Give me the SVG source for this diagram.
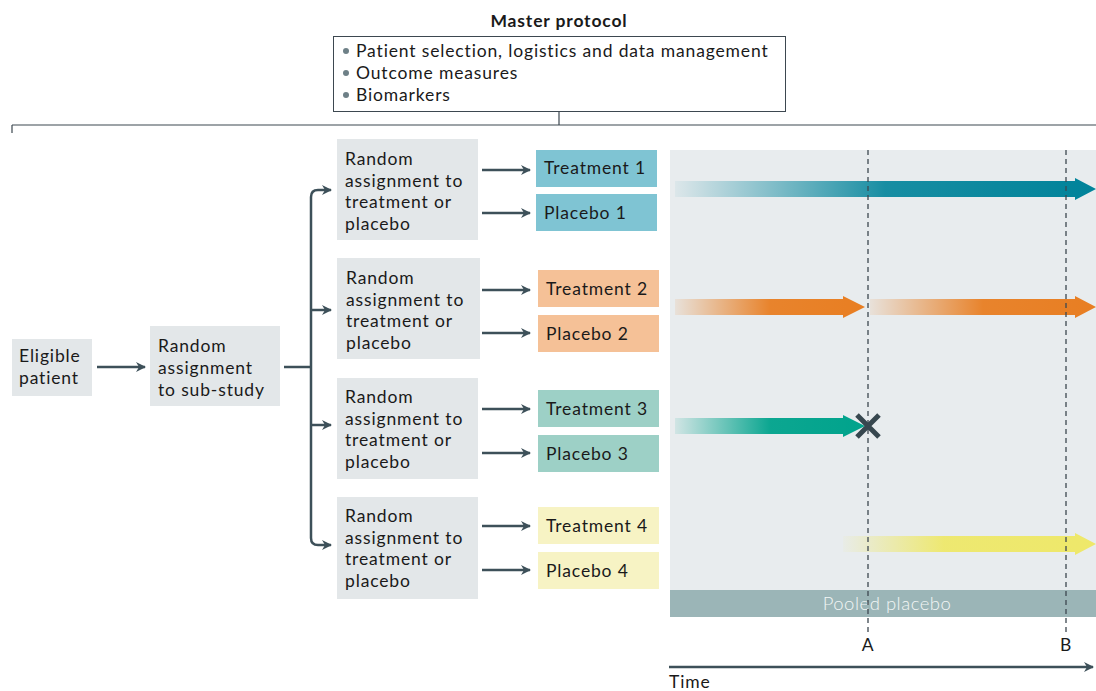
<svg xmlns="http://www.w3.org/2000/svg" width="1096" height="691" viewBox="0 0 1096 691">
<defs>
<style>
text{font-family:Lato,"Open Sans","Liberation Sans",sans-serif;font-size:17.5px;letter-spacing:0.85px;fill:#1a1a1a}
.box{fill:#e3e7e9}
.ln{stroke:#3d5059;stroke-width:2.5;fill:none}
.dash{stroke:#3d4850;stroke-width:1.3;stroke-dasharray:5 4;fill:none}
</style>
<marker id="ah" viewBox="0 0 10 10" refX="9" refY="5" markerWidth="4" markerHeight="4" orient="auto" markerUnits="strokeWidth">
<path d="M0,0 L10,5 L0,10 L3,5 Z" fill="#3d5059"/>
</marker>
<linearGradient id="gBlue" x1="0" x2="1"><stop offset="0" stop-color="#00839a" stop-opacity="0.05"/><stop offset="0.5" stop-color="#00839a" stop-opacity="0.9"/><stop offset="1" stop-color="#00839a"/></linearGradient>
<linearGradient id="gOr" x1="0" x2="1"><stop offset="0" stop-color="#e87e22" stop-opacity="0.1"/><stop offset="0.5" stop-color="#e87e22" stop-opacity="0.95"/><stop offset="1" stop-color="#e87e22"/></linearGradient>
<linearGradient id="gGr" x1="0" x2="1"><stop offset="0" stop-color="#00a38c" stop-opacity="0.1"/><stop offset="0.5" stop-color="#00a38c" stop-opacity="0.95"/><stop offset="1" stop-color="#00a38c"/></linearGradient>
<linearGradient id="gYe" x1="0" x2="1"><stop offset="0" stop-color="#eee86a" stop-opacity="0.05"/><stop offset="0.4" stop-color="#eee86a" stop-opacity="0.95"/><stop offset="1" stop-color="#eee86a"/></linearGradient>
</defs>

<g id="master">
<text x="559" y="27" text-anchor="middle" font-weight="bold">Master protocol</text>
<rect x="333.5" y="36.5" width="452" height="75" fill="#fff" stroke="#3d4850" stroke-width="1"/>
<circle cx="346" cy="51" r="3" fill="#6e8087"/>
<circle cx="346" cy="73" r="3" fill="#6e8087"/>
<circle cx="346" cy="95" r="3" fill="#6e8087"/>
<text x="356" y="57">Patient selection, logistics and data management</text>
<text x="356" y="79">Outcome measures</text>
<text x="356" y="101">Biomarkers</text>
</g>

<g id="panel">
<rect x="670" y="150" width="426" height="440" fill="#e8ecee"/>
<rect x="670" y="590" width="426" height="27" fill="#9bb5b7"/>
<text x="887" y="610" text-anchor="middle" style="fill:#f2f5f5;font-weight:300;font-size:18.5px;letter-spacing:0.5px">Pooled placebo</text>
</g>

<g id="eligible"><rect class="box" x="12" y="339" width="80" height="57"/><text x="19" y="362">Eligible</text><text x="19" y="384">patient</text></g>
<g id="substudy"><rect class="box" x="150" y="326" width="130" height="80"/><text x="158" y="352">Random</text><text x="158" y="374">assignment</text><text x="158" y="396">to sub-study</text></g>

<g id="rand1"><rect class="box" x="337" y="139" width="141" height="101"/><text x="345" y="165">Random</text><text x="345" y="186.5">assignment to</text><text x="345" y="208">treatment or</text><text x="345" y="229.5">placebo</text></g>
<g id="rand2"><rect class="box" x="337" y="258" width="143" height="101"/><text x="346" y="284">Random</text><text x="346" y="305.5">assignment to</text><text x="346" y="327">treatment or</text><text x="346" y="348.5">placebo</text></g>
<g id="rand3"><rect class="box" x="337" y="378" width="141" height="101"/><text x="345" y="403">Random</text><text x="345" y="424.5">assignment to</text><text x="345" y="446">treatment or</text><text x="345" y="467.5">placebo</text></g>
<g id="rand4"><rect class="box" x="337" y="497" width="141" height="102"/><text x="345" y="522">Random</text><text x="345" y="543.5">assignment to</text><text x="345" y="565">treatment or</text><text x="345" y="586.5">placebo</text></g>

<g id="t1"><rect x="536" y="150" width="121" height="37" fill="#7fc4d3"/><text x="544" y="174">Treatment 1</text></g>
<g id="p1"><rect x="536" y="194" width="121" height="37" fill="#7fc4d3"/><text x="544" y="219">Placebo 1</text></g>
<g id="t2"><rect x="538" y="270" width="121" height="37" fill="#f5c197"/><text x="546" y="295">Treatment 2</text></g>
<g id="p2"><rect x="538" y="315" width="121" height="37" fill="#f5c197"/><text x="546" y="340">Placebo 2</text></g>
<g id="t3"><rect x="538" y="390" width="121" height="37" fill="#9dd0c6"/><text x="546" y="415">Treatment 3</text></g>
<g id="p3"><rect x="538" y="435" width="121" height="37" fill="#9dd0c6"/><text x="546" y="460">Placebo 3</text></g>
<g id="t4"><rect x="538" y="507" width="121" height="37" fill="#f7f3c4"/><text x="546" y="532">Treatment 4</text></g>
<g id="p4"><rect x="538" y="552" width="121" height="37" fill="#f7f3c4"/><text x="546" y="577">Placebo 4</text></g>

<g id="timeline">
<path d="M675,181 H1075 V178 L1096,189 L1075,200 V197 H675 Z" fill="url(#gBlue)"/>
<path d="M675,299 H843 V296 L865,307 L843,318 V315 H675 Z" fill="url(#gOr)"/>
<path d="M870,299 H1075 V296 L1096,307 L1075,318 V315 H870 Z" fill="url(#gOr)"/>
<path d="M675,418 H843 V415 L865,426 L843,437 V434 H675 Z" fill="url(#gGr)"/>
<path d="M843,536 H1075 V533 L1096,544 L1075,555 V552 H843 Z" fill="url(#gYe)"/>
<line class="dash" x1="868" y1="150" x2="868" y2="634"/>
<line class="dash" x1="1066" y1="150" x2="1066" y2="634"/>
<path d="M857,415 L879,437 M879,415 L857,437" stroke="#37474f" stroke-width="5"/>
<text x="868" y="651" text-anchor="middle">A</text>
<text x="1066" y="651" text-anchor="middle">B</text>
<line class="ln" x1="669" y1="667" x2="1093" y2="667" marker-end="url(#ah)" stroke-width="2"/>
<text x="669" y="688">Time</text>
</g>

<g id="connectors">
<path d="M559,112 V125 M12,125 H1096 M12,125 V133" stroke="#3d4850" stroke-width="1.2" fill="none"/>
<line class="ln" x1="97" y1="367" x2="145" y2="367" marker-end="url(#ah)"/>
<path class="ln" d="M284,367 H311"/>
<path class="ln" d="M311,367 V197 Q311,190 318,190 H331" marker-end="url(#ah)"/>
<path class="ln" d="M311,367 V538 Q311,545 318,545 H331" marker-end="url(#ah)"/>
<line class="ln" x1="311" y1="310" x2="331" y2="310" marker-end="url(#ah)"/>
<line class="ln" x1="311" y1="425" x2="331" y2="425" marker-end="url(#ah)"/>
<line class="ln" x1="482" y1="170" x2="530" y2="170" marker-end="url(#ah)"/>
<line class="ln" x1="482" y1="213" x2="530" y2="213" marker-end="url(#ah)"/>
<line class="ln" x1="482" y1="290" x2="530" y2="290" marker-end="url(#ah)"/>
<line class="ln" x1="482" y1="333" x2="530" y2="333" marker-end="url(#ah)"/>
<line class="ln" x1="482" y1="409" x2="530" y2="409" marker-end="url(#ah)"/>
<line class="ln" x1="482" y1="453" x2="530" y2="453" marker-end="url(#ah)"/>
<line class="ln" x1="482" y1="526" x2="530" y2="526" marker-end="url(#ah)"/>
<line class="ln" x1="482" y1="570" x2="530" y2="570" marker-end="url(#ah)"/>
</g>
</svg>
